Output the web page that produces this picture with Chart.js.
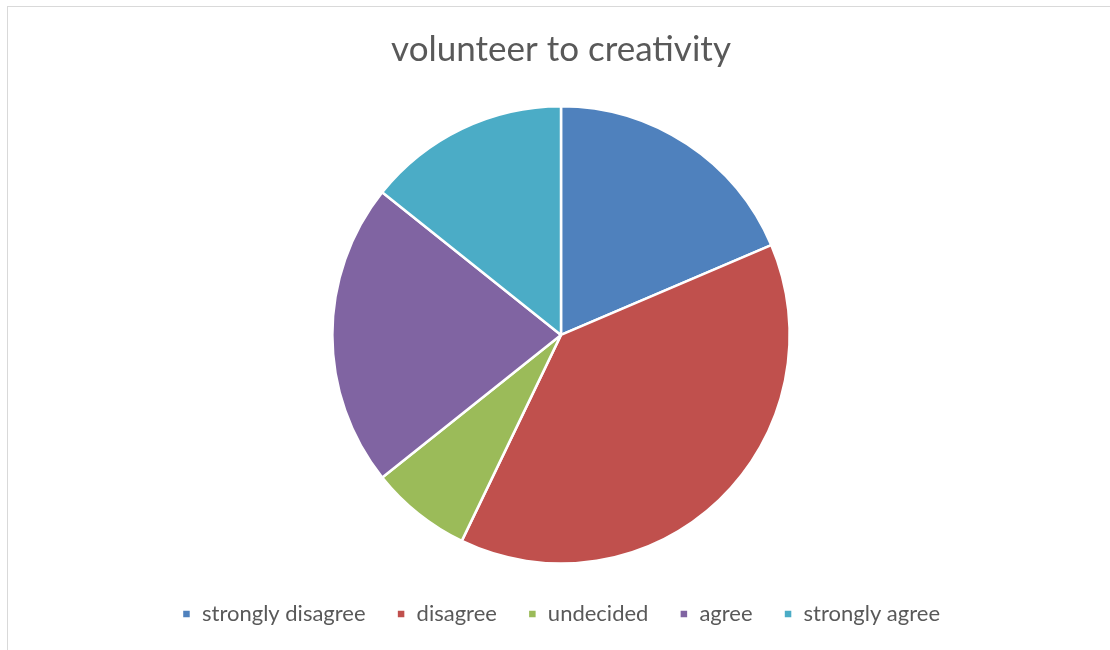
<!DOCTYPE html>
<html>
<head>
<meta charset="utf-8">
<script src="https://cdn.jsdelivr.net/npm/chart.js@4"></script>
<style>
  html, body { margin: 0; padding: 0; background: #fff; }
  #frame {
    position: absolute; left: 7px; top: 6px; width: 1120px; height: 660px;
    border: 1px solid #d9d9d9; box-sizing: border-box;
  }
  #wrap { position: absolute; left: 0; top: 0; width: 1110px; height: 650px; }
</style>
</head>
<body>
<div id="frame"></div>
<div id="wrap"><canvas id="pieChart"></canvas></div>
<script>
const categories = ['strongly disagree', 'disagree', 'undecided', 'agree', 'strongly agree'];
const responses = [13, 27, 5, 15, 10];
const sliceColors = ['#4F81BD', '#C0504D', '#9BBB59', '#8064A2', '#4BACC6'];

document.addEventListener("DOMContentLoaded", function () {
    const ctx = document.getElementById('pieChart').getContext('2d');
    new Chart(ctx, {
        type: 'pie',
        data: {
            labels: categories,
            datasets: [{
                data: responses,
                backgroundColor: sliceColors,
                borderColor: '#ffffff',
                borderWidth: 2.5
            }]
        },
        options: {
            responsive: true,
            maintainAspectRatio: false,
            animation: false,
            layout: { padding: { left: 12, right: 0, top: 0, bottom: 15 } },
            plugins: {
                title: {
                    display: true,
                    text: 'volunteer to creativity',
                    color: '#595959',
                    font: { family: 'Lato', size: 35, weight: 'normal' },
                    padding: { top: 29, bottom: 34 }
                },
                legend: {
                    position: 'bottom',
                    // empty legend title only used as a spacer above the items
                    title: { display: true, text: ' ', font: { size: 1 }, padding: { top: 3, bottom: 3 } },
                    labels: {
                        color: '#595959',
                        font: { family: 'Lato', size: 22 },
                        boxWidth: 9,
                        boxHeight: 9,
                        padding: 31
                    }
                },
                tooltip: { enabled: false }
            }
        }
    });
});
</script>
</body>
</html>
